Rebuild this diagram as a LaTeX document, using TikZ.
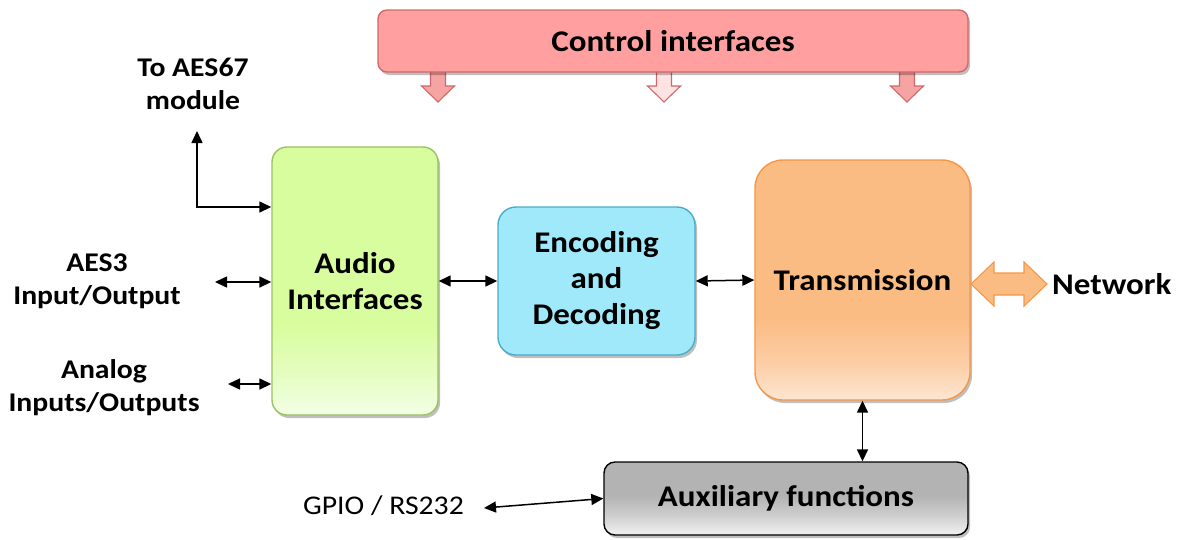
\documentclass[tikz,border=0pt]{standalone}
\usepackage{fontspec}
\setmainfont{Carlito}[FakeStretch=1.1]
\usetikzlibrary{arrows.meta,shadows}
\definecolor{ctrlfill}{HTML}{FF9F9F}
\definecolor{ctrlline}{HTML}{D06868}
\definecolor{ctrlarr}{HTML}{F5A3A3}
\definecolor{ctrlarrlight}{HTML}{FFE2E2}
\definecolor{audiotop}{HTML}{D8FD9E}
\definecolor{audiobot}{HTML}{F3FEE6}
\definecolor{audioline}{HTML}{9BC25E}
\definecolor{encfill}{HTML}{A0E9FB}
\definecolor{encline}{HTML}{4BACC6}
\definecolor{trtop}{HTML}{FBBC84}
\definecolor{trbot}{HTML}{FDE6D3}
\definecolor{trline}{HTML}{F79646}
\definecolor{auxtop}{HTML}{B3B3B3}
\definecolor{auxbot}{HTML}{F2F2F2}
% the node fills the band 25bp (bottom) .. 75bp (top) of a 100bp shading
\pgfdeclareverticalshading{audioshade}{100bp}{color(0bp)=(audiobot); color(25bp)=(audiobot); color(33bp)=(audiobot!45!audiotop); color(42bp)=(audiotop); color(100bp)=(audiotop)}
\pgfdeclareverticalshading{trshade}{100bp}{color(0bp)=(trbot); color(25bp)=(trbot); color(33bp)=(trbot!40!trtop); color(42bp)=(trtop); color(100bp)=(trtop)}
\pgfdeclareverticalshading{auxshade}{100bp}{color(0bp)=(auxbot); color(25bp)=(auxbot); color(38bp)=(auxtop!55!auxbot); color(52bp)=(auxtop); color(100bp)=(auxtop)}
\tikzset{
  blk/.style={draw, line width=1.4pt, align=center, inner sep=0pt,
    font=\fontsize{30}{36}\selectfont\bfseries,
    drop shadow={shadow xshift=2pt, shadow yshift=-3pt, opacity=0.25, fill=black}},
  side/.style={align=center, inner sep=0pt, font=\fontsize{27}{33}\selectfont\bfseries},
  conn/.style={line width=1.5pt, {Triangle[length=12pt,width=11pt]}-{Triangle[length=12pt,width=11pt]}},
  blockarrow/.style={draw=ctrlline, line width=1.1pt, line join=miter},
}
\newcommand{\downarrowat}[2]{%
  \draw[blockarrow, fill=#2] (#1-7.5,68) -- (#1-7.5,86) -- (#1-16.5,86) -- (#1,102)
    -- (#1+16.5,86) -- (#1+7.5,86) -- (#1+7.5,68) -- cycle;}
\begin{document}
\begin{tikzpicture}[x=1pt,y=-1pt]
\useasboundingbox (0,0) rectangle (1177,539);
% control interface block arrows (drawn first, the box covers their tops)
\downarrowat{438}{ctrlarr}
\downarrowat{664}{ctrlarrlight}
\downarrowat{907}{ctrlarr}
% control interfaces
\node[blk, draw=ctrlline, fill=ctrlfill, rounded corners=9pt,
  minimum width=590pt, minimum height=62pt] (ctrl) at (673,41) {Control interfaces};
% main blocks
\node[blk, draw=audioline, shading=audioshade,
  rounded corners=15pt, minimum width=166pt, minimum height=268pt] (audio) at (355,281) {Audio\\Interfaces};
\node[blk, draw=encline, fill=encfill, rounded corners=18pt,
  minimum width=197pt, minimum height=148pt] (enc) at (596.5,281) {Encoding\\and\\Decoding};
\node[blk, draw=trline, shading=trshade,
  rounded corners=28pt, minimum width=215pt, minimum height=240pt] (tr) at (862.5,280) {Transmission};
\node[blk, draw=black, shading=auxshade, rounded corners=11pt,
  minimum width=364pt, minimum height=73pt] (aux) at (786,498.5) {Auxiliary functions};
% network double block arrow
\draw[draw=trline, fill=trtop, line width=1.1pt, line join=miter]
  (971,284) -- (994,262) -- (994,273) -- (1024,273) -- (1024,262) -- (1047,284)
  -- (1024,306) -- (1024,295) -- (994,295) -- (994,306) -- cycle;
\node[side, font=\fontsize{30}{36}\selectfont\bfseries, anchor=west] (netlbl) at (1052,284) {Network};
% left labels
\node[side] (aes67) at (193,84) {To AES67\\module};
\node[side] (aes3) at (97,281) {AES3\\Input/Output};
\node[side] (analog) at (104,388) {Analog\\Inputs/Outputs};
\node[inner sep=0pt, font=\fontsize{27}{33}\selectfont, anchor=east] (gpio) at (464,506) {GPIO / RS232};
% connector end points
\coordinate (aes67end) at (197,131);
\coordinate (aes3end) at (215,282);
\coordinate (analogend) at (228,384);
\coordinate (gpioend) at (484,508);
% connectors
\draw[conn] (aes67end) |- (audio.west |- 0,207);
\draw[conn] (aes3end) -- (audio.west |- aes3end);
\draw[conn] (analogend) -- (audio.west |- analogend);
\draw[conn] (audio.east) -- (enc.west);
\draw[conn] (enc.east) -- (tr.west);
\draw[conn] (tr.south) -- (aux.north -| tr.south);
\draw[conn] (gpioend) -- (aux.west);
\end{tikzpicture}
\end{document}
